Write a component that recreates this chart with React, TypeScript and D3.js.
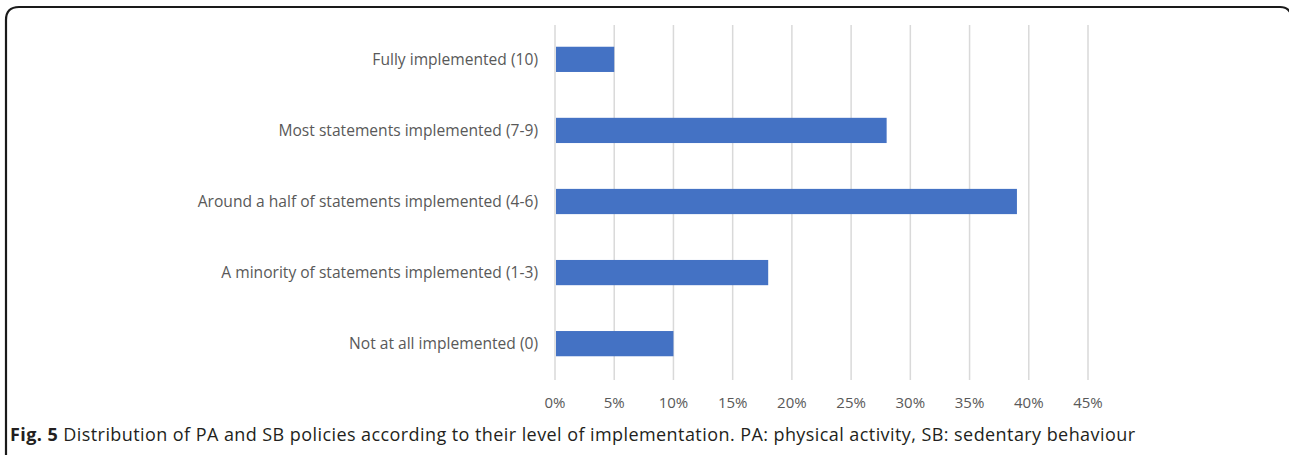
import React, { useEffect, useRef } from 'react';
import * as d3 from 'd3';

const categories = [
  'Fully implemented (10)',
  'Most statements implemented (7-9)',
  'Around a half of statements implemented (4-6)',
  'A minority of statements implemented (1-3)',
  'Not at all implemented (0)',
];
const values = [5, 28, 39, 18, 10];
const ticks = [0, 5, 10, 15, 20, 25, 30, 35, 40, 45];
const captionBold = 'Fig. 5';
const captionText =
  ' Distribution of PA and SB policies according to their level of implementation. PA: physical activity, SB: sedentary behaviour';

const W = 1289;
const H = 455;

export default function App() {
  const ref = useRef<SVGSVGElement>(null);

  useEffect(() => {
    const svg = d3.select(ref.current);
    svg.selectAll('*').remove();

    const font = "'Open Sans', 'DejaVu Sans', sans-serif";
    const margin = { left: 555, right: W - 1088, top: 24, bottom: H - 379 };

    // frame around the figure
    svg
      .append('path')
      .attr('d', `M6,460 L6,20 Q6,7 19,7 L1280,7 Q1288,7 1291,14`)
      .attr('fill', 'none')
      .attr('stroke', '#1a1a1a')
      .attr('stroke-width', 2.2);

    const x = d3
      .scaleLinear()
      .domain([0, 45])
      .range([margin.left, W - margin.right]);
    const y = d3
      .scaleBand()
      .domain(categories)
      .range([margin.top, H - margin.bottom])
      .paddingInner(0.645)
      .paddingOuter(0.32);

    const g = svg.append('g');

    g.append('g')
      .selectAll('line')
      .data(ticks)
      .enter()
      .append('line')
      .attr('x1', d => x(d))
      .attr('x2', d => x(d))
      .attr('y1', 25)
      .attr('y2', 380)
      .attr('stroke', '#d9d9d9')
      .attr('stroke-width', 1.5);

    g.append('g')
      .selectAll('rect')
      .data(values)
      .enter()
      .append('rect')
      .attr('x', x(0) + 1)
      .attr('y', (d, i) => y(categories[i]))
      .attr('width', d => x(d) - x(0) - 1)
      .attr('height', y.bandwidth())
      .attr('fill', '#4472c4');

    g.append('g')
      .selectAll('text')
      .data(categories)
      .enter()
      .append('text')
      .attr('x', 538)
      .attr('y', d => y(d) + y.bandwidth() / 2)
      .attr('dy', '0.35em')
      .attr('text-anchor', 'end')
      .attr('fill', '#595959')
      .style('font-family', font)
      .style('font-size', '15.6px')
      .text(d => d);

    g.append('g')
      .selectAll('text')
      .data(ticks)
      .enter()
      .append('text')
      .attr('x', d => x(d))
      .attr('y', 408)
      .attr('text-anchor', 'middle')
      .attr('fill', '#595959')
      .style('font-family', font)
      .style('font-size', '15px')
      .text(d => `${d}%`);

    const cap = svg
      .append('text')
      .attr('x', 10)
      .attr('y', 441)
      .attr('fill', '#231f20')
      .attr('textLength', 1125)
      .attr('lengthAdjust', 'spacing')
      .style('font-family', font)
      .style('font-size', '18px');
    cap.append('tspan').style('font-weight', 'bold').text(captionBold);
    cap.append('tspan').text(captionText);
  }, []);

  return (
    <svg
      ref={ref}
      width={W}
      height={H}
      style={{ position: 'absolute', left: 0, top: 0, background: '#fff' }}
    />
  );
}
